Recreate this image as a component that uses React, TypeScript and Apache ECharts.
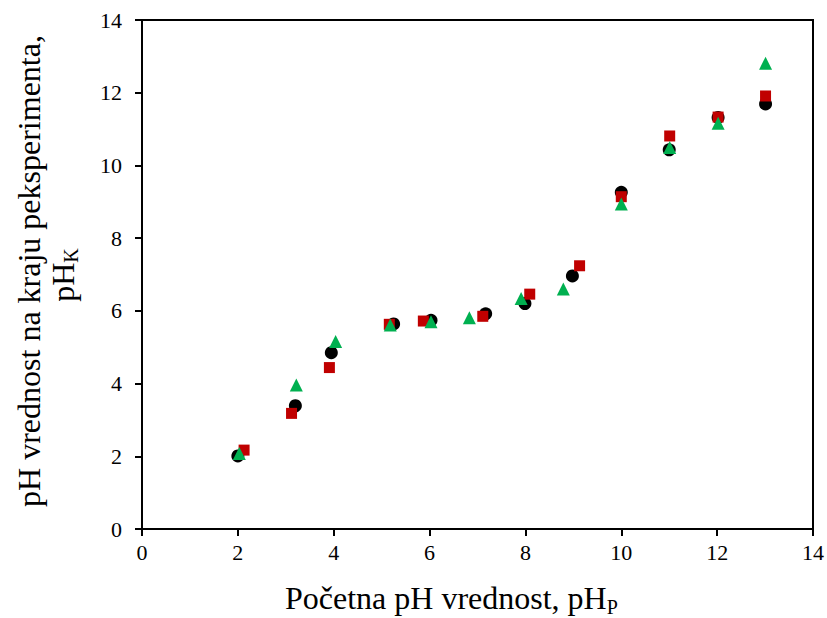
import React, { useEffect, useRef } from "react";
import * as echarts from "echarts";

// Black circles
const circleX = [2.0, 3.2, 3.95, 5.25, 6.03, 7.17, 7.99, 8.98, 10.0, 11.0, 12.02, 13.01];
const circleY = [2.01, 3.39, 4.85, 5.64, 5.74, 5.92, 6.2, 6.96, 9.26, 10.43, 11.32, 11.69];
// Red squares
const squareX = [2.13, 3.12, 3.91, 5.16, 5.87, 7.11, 8.09, 9.13, 10.0, 11.01, 12.02, 13.01];
const squareY = [2.17, 3.18, 4.44, 5.63, 5.72, 5.85, 6.46, 7.24, 9.14, 10.81, 11.33, 11.91];
// Green triangles
const triX = [2.03, 3.22, 4.04, 5.18, 6.03, 6.83, 7.91, 8.79, 10.0, 11.01, 12.02, 13.01];
const triY = [2.08, 3.96, 5.16, 5.61, 5.7, 5.81, 6.34, 6.6, 8.94, 10.49, 11.16, 12.81];

const xTitleMain = "Početna pH vrednost, pH";
const xTitleSub = "P";
const yTitleLine1 = "pH vrednost na kraju peksperimenta,";
const yTitleLine2Main = "pH";
const yTitleLine2Sub = "K";

const FF = "Liberation Serif";
const TITLE_SIZE = 32;
const SUB_SIZE = 20;
const TICK_SIZE = 22;

function measure(text: string, size: number): number {
  const c = document.createElement("canvas");
  const ctx = c.getContext("2d");
  if (!ctx) return text.length * size * 0.5;
  ctx.font = `${size}px "${FF}", serif`;
  return ctx.measureText(text).width;
}

const zip = (xs: number[], ys: number[]) => xs.map((x, i) => [x, ys[i]]);

function makeAxis(margin: number) {
  return {
    type: "value",
    min: 0,
    max: 14,
    interval: 2,
    axisLine: { show: true, lineStyle: { color: "#000", width: 2 } },
    axisTick: { show: true, inside: false, length: 7, lineStyle: { color: "#000", width: 2 } },
    splitLine: { show: false },
    axisLabel: { color: "#000", fontSize: TICK_SIZE, fontFamily: FF, margin },
  };
}

export default function App() {
  const ref = useRef<HTMLDivElement>(null);
  useEffect(() => {
    if (!ref.current) return;
    const chart = echarts.init(ref.current, undefined, { renderer: "svg" });

    const xw1 = measure(xTitleMain, TITLE_SIZE);
    const yw1 = measure(yTitleLine2Main, TITLE_SIZE);
    const yw2 = measure(yTitleLine2Sub, SUB_SIZE);
    const yLine2W = yw1 + yw2;

    chart.setOption({
      animation: false,
      backgroundColor: "#fff",
      grid: {
        left: 142,
        right: 13.5,
        top: 20,
        bottom: 89,
        show: true,
        borderColor: "#000",
        borderWidth: 2,
      },
      xAxis: makeAxis(12),
      yAxis: makeAxis(20),
      series: [
        {
          type: "scatter",
          data: zip(circleX, circleY),
          symbol: "circle",
          symbolSize: 13,
          itemStyle: { color: "#000000", opacity: 1 },
          z: 2,
        },
        {
          type: "scatter",
          data: zip(squareX, squareY),
          symbol: "rect",
          symbolSize: 11,
          itemStyle: { color: "#C00000", opacity: 1 },
          z: 3,
        },
        {
          type: "scatter",
          data: zip(triX, triY),
          symbol: "triangle",
          symbolSize: 13,
          itemStyle: { color: "#00B050", opacity: 1 },
          z: 4,
        },
      ],
      graphic: [
        {
          type: "text",
          x: 285,
          y: 598,
          style: {
            text: xTitleMain,
            fontSize: TITLE_SIZE,
            fontFamily: FF,
            fill: "#000",
            align: "left",
            verticalAlign: "middle",
          },
        },
        {
          type: "text",
          x: 285 + xw1,
          y: 607,
          style: {
            text: xTitleSub,
            fontSize: SUB_SIZE,
            fontFamily: FF,
            fill: "#000",
            align: "left",
            verticalAlign: "middle",
          },
        },
        {
          type: "text",
          x: 29,
          y: 271,
          rotation: Math.PI / 2,
          style: {
            text: yTitleLine1,
            fontSize: TITLE_SIZE,
            fontFamily: FF,
            fill: "#000",
            align: "center",
            verticalAlign: "middle",
          },
        },
        {
          type: "group",
          x: 63,
          y: 275,
          rotation: Math.PI / 2,
          children: [
            {
              type: "text",
              x: -yLine2W / 2,
              y: 0,
              style: {
                text: yTitleLine2Main,
                fontSize: TITLE_SIZE,
                fontFamily: FF,
                fill: "#000",
                align: "left",
                verticalAlign: "middle",
              },
            },
            {
              type: "text",
              x: -yLine2W / 2 + yw1,
              y: 8,
              style: {
                text: yTitleLine2Sub,
                fontSize: SUB_SIZE,
                fontFamily: FF,
                fill: "#000",
                align: "left",
                verticalAlign: "middle",
              },
            },
          ],
        },
      ],
    });
    return () => chart.dispose();
  }, []);
  return (
    <div
      ref={ref}
      style={{ position: "fixed", left: 0, top: 0, width: 827, height: 618, background: "#fff" }}
    />
  );
}
